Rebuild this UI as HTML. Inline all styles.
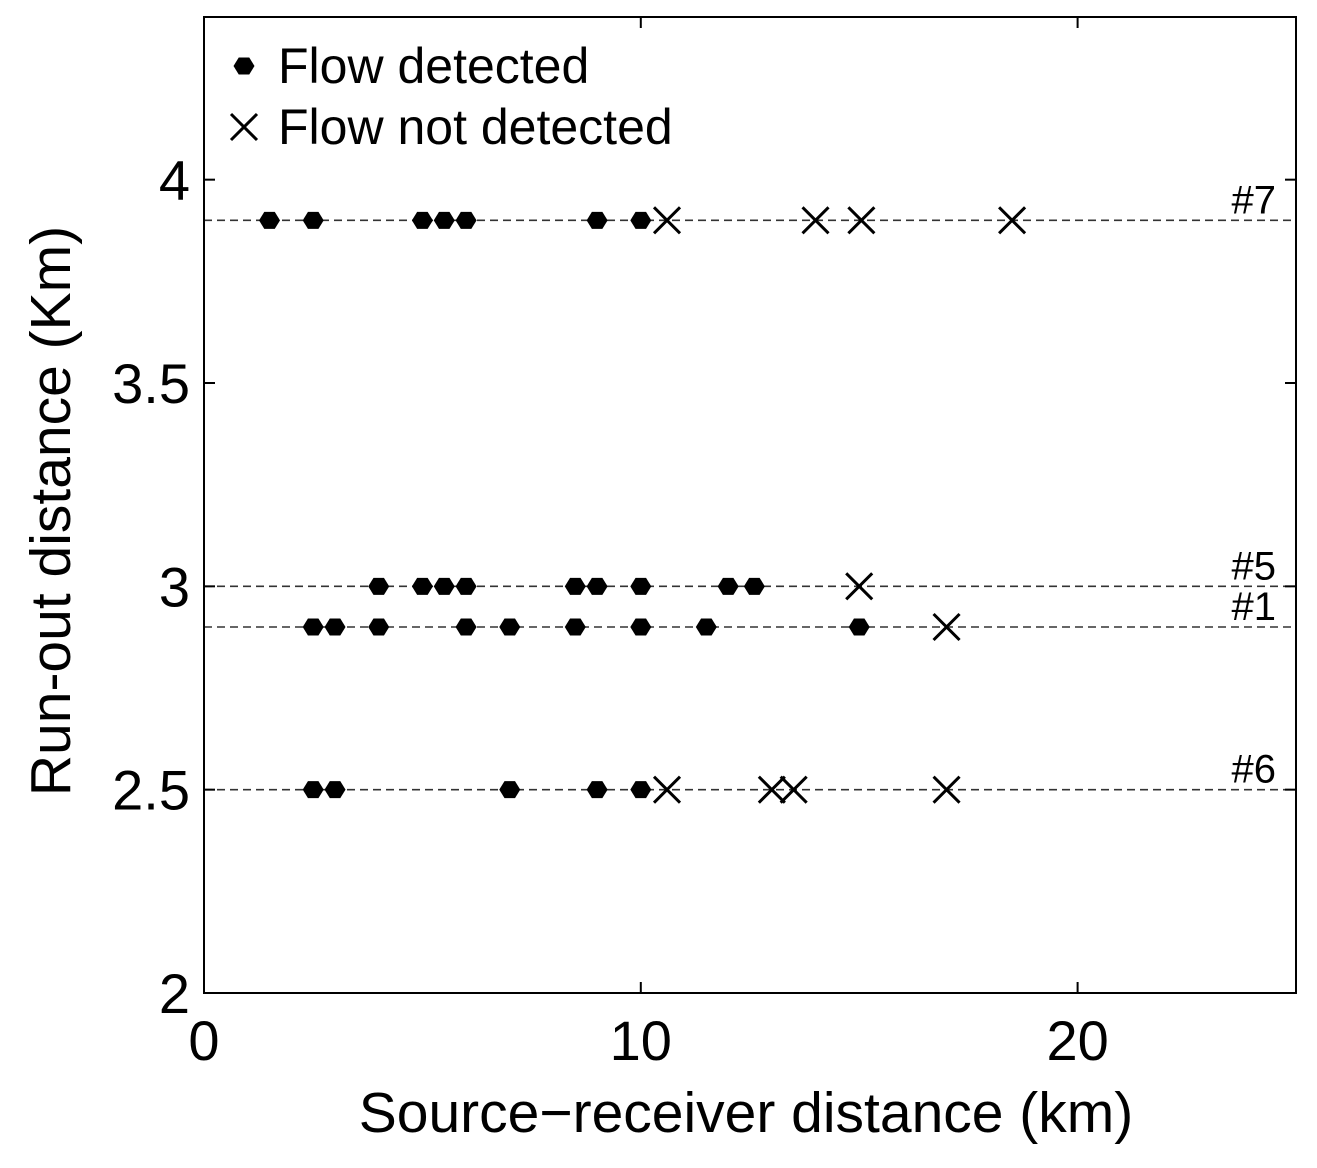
<!DOCTYPE html>
<html><head><meta charset="utf-8"><style>
body{margin:0;background:#fff}
svg text{font-family:"Liberation Sans",Arial,sans-serif;fill:#000}
</style></head><body>
<svg id="chart" width="1317" height="1163" viewBox="0 0 1317 1163" xmlns="http://www.w3.org/2000/svg">
<g id="grid"></g><g id="marks"></g><g id="axes"></g>
</svg>
<script>
const lineLevels=[3.9,3.0,2.9,2.5];
const lineLabels=["#7","#5","#1","#6"];
const detX7=[1.5,2.5,5,5.5,6,9,10];
const notX7=[10.6,14,15.05,18.5];
const detX5=[4,5,5.5,6,8.5,9,10,12,12.6];
const notX5=[15];
const detX1=[2.5,3,4,6,7,8.5,10,11.5,15];
const notX1=[17];
const detX6=[2.5,3,7,9,10];
const notX6=[10.6,13,13.5,17];
const xTicks=[0,10,20];
const yTicks=[2,2.5,3,3.5,4];
const yTickLabels=["2","2.5","3","3.5","4"];

const L=204,R=1296,T=17,B=993;
const xS=v=>L+(v-0)/25*(R-L);
const yS=v=>B-(v-2)/2.4*(B-T);
const NS="http://www.w3.org/2000/svg";
function mk(tag,attrs,parent){const e=document.createElementNS(NS,tag);for(const k in attrs)e.setAttribute(k,attrs[k]);parent.appendChild(e);return e;}
const grid=document.getElementById('grid'),marks=document.getElementById('marks'),axes=document.getElementById('axes');

lineLevels.forEach((lv,i)=>{
  const ln=mk('line',{x1:L,x2:R,y1:yS(lv),y2:yS(lv),stroke:'#333','stroke-width':1.6,'stroke-dasharray':'8,5'},grid);
  
  
  const t=mk('text',{x:1276,y:yS(lv)-7,'font-size':40,'text-anchor':'end'},grid);
  t.textContent=lineLabels[i];
  
  
});
function hex(cx,cy,parent){
  const r=10.5,h=8.5;
  return mk('polygon',{points:`${cx-r},${cy} ${cx-r/2},${cy-h} ${cx+r/2},${cy-h} ${cx+r},${cy} ${cx+r/2},${cy+h} ${cx-r/2},${cy+h}`,fill:'#000'},parent);
}
function cross(cx,cy,parent){
  const s=13;
  return mk('path',{d:`M${cx-s},${cy-s}L${cx+s},${cy+s}M${cx-s},${cy+s}L${cx+s},${cy-s}`,stroke:'#000','stroke-width':3,fill:'none'},parent);
}
const sets=[[detX7,notX7,3.9],[detX5,notX5,3.0],[detX1,notX1,2.9],[detX6,notX6,2.5]];
sets.forEach(([d,n,lv])=>{
  d.forEach(v=>{const p=hex(xS(v),yS(lv),marks);
    
    });
  n.forEach(v=>{const p=cross(xS(v),yS(lv),marks);
    
    });
});
const fr=mk('rect',{x:L,y:T,width:R-L,height:B-T,fill:'none',stroke:'#000','stroke-width':2},axes);


xTicks.forEach(v=>{
  mk('line',{x1:xS(v),x2:xS(v),y1:B,y2:B-11,stroke:'#000','stroke-width':2},axes);
  mk('line',{x1:xS(v),x2:xS(v),y1:T,y2:T+11,stroke:'#000','stroke-width':2},axes);
  const t=mk('text',{x:xS(v),y:1060,'font-size':56,'text-anchor':'middle'},axes);
  t.textContent=v;
  
  
});
yTicks.forEach((v,i)=>{
  mk('line',{x1:L,x2:L+11,y1:yS(v),y2:yS(v),stroke:'#000','stroke-width':2},axes);
  mk('line',{x1:R,x2:R-11,y1:yS(v),y2:yS(v),stroke:'#000','stroke-width':2},axes);
  const t=mk('text',{x:190,y:yS(v)+20,'font-size':56,'text-anchor':'end'},axes);
  t.textContent=yTickLabels[i];
  
  
});
const xt=mk('text',{x:746,y:1132,'font-size':57,'text-anchor':'middle'},axes);
xt.textContent='Source\u2212receiver distance (km)';


const yt=mk('text',{x:0,y:0,'font-size':57,'text-anchor':'middle',transform:'translate(70,511) rotate(-90)'},axes);
yt.textContent='Run-out distance (Km)';


const lg=mk('g',{},axes);


const h1=hex(244,66,lg);


const c1=cross(244,127,lg);


const l1=mk('text',{x:278,y:83,'font-size':50},lg);
l1.textContent='Flow detected';


const l2=mk('text',{x:278,y:144,'font-size':50},lg);
l2.textContent='Flow not detected';


</script>
</body></html>
